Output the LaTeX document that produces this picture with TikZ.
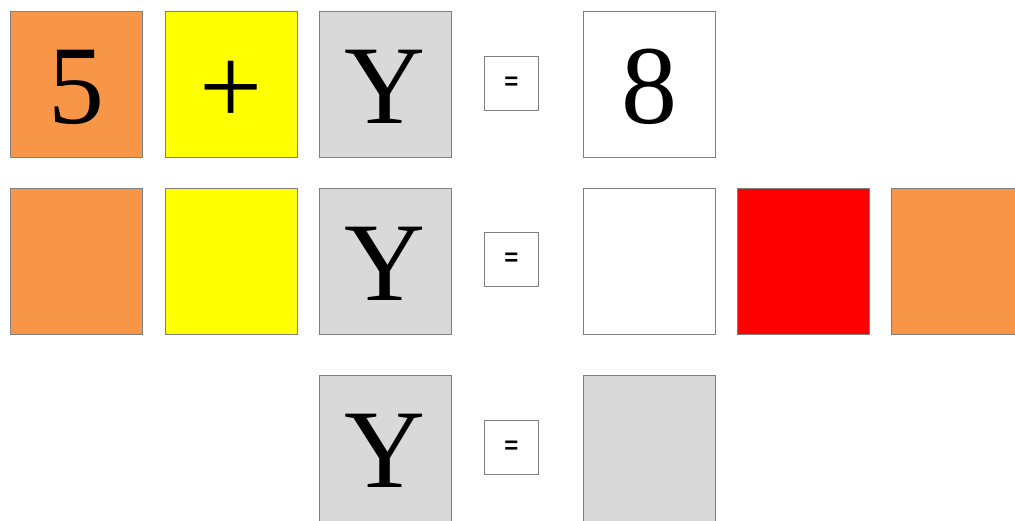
\documentclass[tikz,border=0pt]{standalone}
\usepackage{fontspec}
\setmainfont{Liberation Serif}
\newfontfamily\eqfont{Liberation Sans}
\definecolor{borange}{HTML}{F79646}
\definecolor{byellow}{HTML}{FFFF00}
\definecolor{bgray}{HTML}{D9D9D9}
\definecolor{bred}{HTML}{FF0000}
\definecolor{bline}{HTML}{7F7F7F}
\tikzset{
  tile/.style={draw=bline, line width=1pt, anchor=north west, minimum width=131.5pt, minimum height=146.5pt, inner sep=0pt, text height=78pt, text depth=0pt, font=\fontsize{112}{112}\selectfont},
  plustile/.style={tile, text height=80pt},
  eqbox/.style={draw=bline, line width=1pt, fill=white, anchor=north west, minimum width=54pt, minimum height=54pt, inner sep=0pt, font=\eqfont\bfseries\fontsize{24}{24}\selectfont}
}
\begin{document}
\begin{tikzpicture}[x=1pt,y=-1pt]
\useasboundingbox (0,0) rectangle (1015,521);
\begin{scope}
\clip (0,0) rectangle (1015,521);
% row 1
\node[tile, fill=borange] (a1) at (10,11) {5};
\node[plustile, fill=byellow] (b1) at (165,11) {+};
\node[tile, fill=bgray] (c1) at (319,11) {Y};
\node[eqbox] (e1) at (484,56) {=};
\node[tile, fill=white] (d1) at (583,11) {8};
% row 2
\node[tile, fill=borange] (a2) at (10,188) {};
\node[tile, fill=byellow] (b2) at (165,188) {};
\node[tile, fill=bgray] (c2) at (319,188) {Y};
\node[eqbox] (e2) at (484,232) {=};
\node[tile, fill=white] (d2) at (583,188) {};
\node[tile, fill=bred] (f2) at (737,188) {};
\node[tile, fill=borange] (g2) at (891,188) {};
% row 3
\node[tile, fill=bgray] (c3) at (319,375) {Y};
\node[eqbox] (e3) at (484,420) {=};
\node[tile, fill=bgray] (d3) at (583,375) {};
\end{scope}
\end{tikzpicture}
\end{document}
